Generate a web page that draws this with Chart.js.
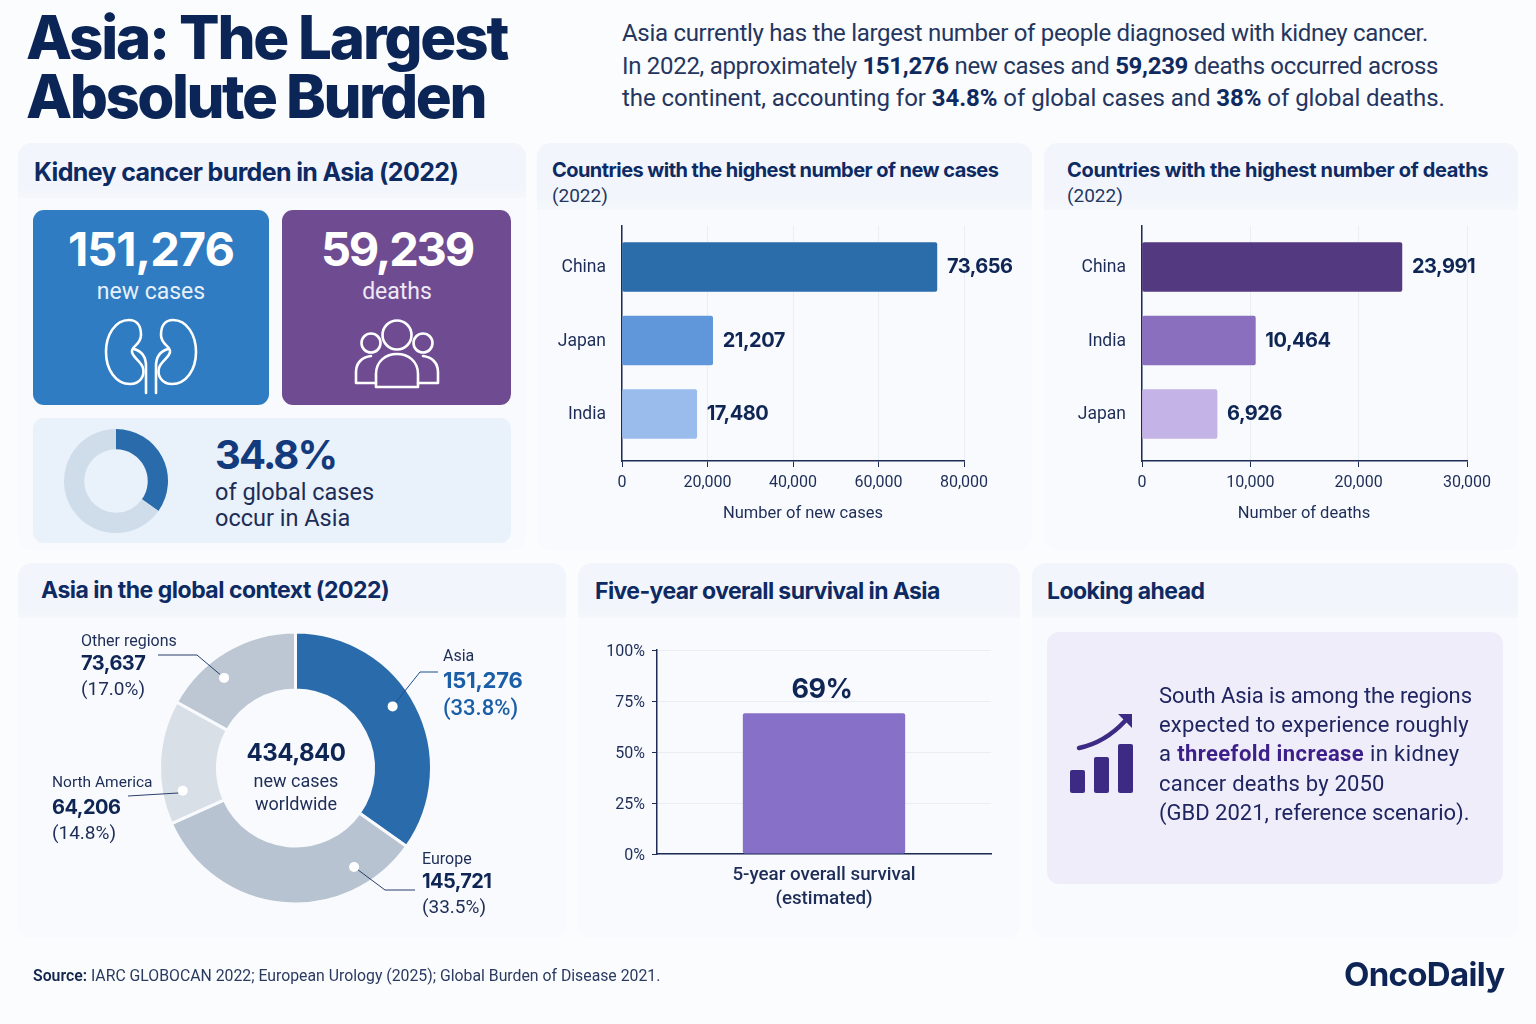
<!DOCTYPE html>
<html>
<head>
<meta charset="utf-8">
<script src="https://cdn.jsdelivr.net/npm/chart.js@4"></script>
<style>
  html, body { margin: 0; padding: 0; }
  body { width: 1536px; height: 1024px; position: relative; overflow: hidden; background: #fbfcfe; font-family: Roboto, sans-serif; color: #1d2d57; }
  .box { position: absolute; }
  .panel { position: absolute; border-radius: 14px; background: #f8fafd; overflow: hidden; }
  .band { position: absolute; left: 0; right: 0; top: 0; background: linear-gradient(#f2f6fc, #f2f6fc 80%, #f4f8fc); }
  .t { position: absolute; white-space: nowrap; transform: translateY(-50%); }
  .c { transform: translate(-50%, -50%); text-align: center; }
  .n { font-family: Inter, sans-serif; font-weight: 700; }
  .h { font-family: Inter, sans-serif; font-weight: 700; color: #0e2a63; letter-spacing: -0.5px; }
  b { font-weight: 700; color: #0f2a5e; }
  canvas { position: absolute; }
  svg { position: absolute; left: 0; top: 0; }
</style>
</head>
<body>

<div class="t n" style="left:26px;top:37px;font-size:60px;font-weight:800;color:#0c2557;letter-spacing:-2.2px">Asia: The Largest</div>
<div class="t n" style="left:26px;top:96px;font-size:60px;font-weight:800;color:#0c2557;letter-spacing:-2.5px">Absolute Burden</div>

<div class="t" style="left:622px;top:33px;font-size:24px;letter-spacing:-0.3px;color:#24365f">Asia currently has the largest number of people diagnosed with kidney cancer.</div>
<div class="t" style="left:622px;top:66px;font-size:24px;letter-spacing:-0.3px;color:#24365f">In 2022, approximately <b>151,276</b> new cases and <b>59,239</b> deaths occurred across</div>
<div class="t" style="left:622px;top:98px;font-size:24px;letter-spacing:-0.06px;color:#24365f">the continent, accounting for <b>34.8%</b> of global cases and <b>38%</b> of global deaths.</div>

<!-- panels -->
<div class="panel" style="left:18px;top:143px;width:508px;height:407px"><div class="band" style="height:55px"></div></div>
<div class="panel" style="left:537px;top:143px;width:495px;height:407px"><div class="band" style="height:67px"></div></div>
<div class="panel" style="left:1044px;top:143px;width:474px;height:407px"><div class="band" style="height:67px"></div></div>
<div class="panel" style="left:18px;top:563px;width:548px;height:375px"><div class="band" style="height:55px"></div></div>
<div class="panel" style="left:578px;top:563px;width:442px;height:375px"><div class="band" style="height:55px"></div></div>
<div class="panel" style="left:1032px;top:563px;width:486px;height:375px"><div class="band" style="height:55px"></div></div>

<!-- burden panel -->
<div class="t h" style="left:34px;top:172px;font-size:25px;letter-spacing:-0.63px">Kidney cancer burden in Asia (2022)</div>
<div class="box" style="left:33px;top:210px;width:236px;height:195px;border-radius:11px;background:#2f7cc2"></div>
<div class="box" style="left:282px;top:210px;width:229px;height:195px;border-radius:11px;background:#6f4c92"></div>
<div class="box" style="left:33px;top:418px;width:478px;height:125px;border-radius:11px;background:#e9f1fa"></div>
<div class="t c n" style="left:151px;top:248px;font-size:47px;color:#fff;letter-spacing:-1px">151,276</div>
<div class="t c" style="left:151px;top:291px;font-size:23px;color:#e6f0fa">new cases</div>
<div class="t c n" style="left:397px;top:248px;font-size:47px;color:#fff;letter-spacing:-2.2px">59,239</div>
<div class="t c" style="left:397px;top:291px;font-size:23px;color:#efe8f5">deaths</div>
<svg width="1536" height="1024" style="pointer-events:none">
  <g fill="none" stroke="#fff" stroke-width="2.6" stroke-linecap="round" stroke-linejoin="round">
    <g id="kidney">
      <path d="M129 320C115 320 106 335 106 352C106 370 116 384 130 384C140 384 145 376 143 368C141 361 133 358 132 352C131 346 141 345 141 335C141 326 137 320 129 320Z"/>
      <path d="M146 393V366C146 356 141 351 134 349"/>
    </g>
    <g transform="translate(302,0) scale(-1,1)">
      <path d="M129 320C115 320 106 335 106 352C106 370 116 384 130 384C140 384 145 376 143 368C141 361 133 358 132 352C131 346 141 345 141 335C141 326 137 320 129 320Z"/>
      <path d="M146 393V366C146 356 141 351 134 349"/>
    </g>
    <circle cx="397" cy="335" r="14.5"/>
    <circle cx="371" cy="343" r="9.5"/>
    <circle cx="423" cy="343" r="9.5"/>
    <path d="M376 387V374C376 361 386 354 397 354C408 354 418 361 418 374V387Z"/>
    <path d="M376 383H356V372C356 363 362 357 371 356"/>
    <path d="M418 383H438V372C438 363 432 357 423 356"/>
  </g>
</svg>
<canvas id="shareChart" width="120" height="120" style="left:56px;top:421px"></canvas>
<div class="t n" style="left:215px;top:454px;font-size:40px;color:#123a7c;letter-spacing:-1.8px">34.8%</div>
<div class="t" style="left:215px;top:492px;font-size:23.5px;color:#1d2d57">of global cases</div>
<div class="t" style="left:215px;top:518px;font-size:23.5px;color:#1d2d57">occur in Asia</div>

<!-- new cases panel -->
<div class="t h" style="left:552px;top:170px;font-size:20px;letter-spacing:-0.55px">Countries with the highest number of new cases</div>
<div class="t" style="left:552px;top:195px;font-size:19px;color:#24365f">(2022)</div>
<canvas id="casesChart" width="495" height="330" style="left:537px;top:215px"></canvas>
<div class="t c" style="left:803px;top:512px;font-size:16.5px;color:#1d2d57">Number of new cases</div>

<!-- deaths panel -->
<div class="t h" style="left:1067px;top:170px;font-size:20px;letter-spacing:-0.33px">Countries with the highest number of deaths</div>
<div class="t" style="left:1067px;top:195px;font-size:19px;color:#24365f">(2022)</div>
<canvas id="deathsChart" width="474" height="330" style="left:1044px;top:215px"></canvas>
<div class="t c" style="left:1304px;top:512px;font-size:16.5px;color:#1d2d57">Number of deaths</div>

<!-- global context panel -->
<div class="t h" style="left:41px;top:590px;font-size:23px;letter-spacing:-0.5px">Asia in the global context (2022)</div>
<canvas id="globalChart" width="555" height="280" style="left:18px;top:628px"></canvas>
<div class="t c n" style="left:296px;top:752px;font-size:24px;color:#0f2655;letter-spacing:-0.5px">434,840</div>
<div class="t c" style="left:296px;top:780px;font-size:18px">new cases</div>
<div class="t c" style="left:296px;top:803px;font-size:18px">worldwide</div>

<div class="t" style="left:81px;top:640px;font-size:16px">Other regions</div>
<div class="t n" style="left:81px;top:663px;font-size:20px;color:#0f2655;letter-spacing:-0.5px">73,637</div>
<div class="t" style="left:81px;top:688px;font-size:19px">(17.0%)</div>
<div class="t" style="left:443px;top:655px;font-size:16px">Asia</div>
<div class="t n" style="left:443px;top:680px;font-size:22px;color:#1b5ea8;letter-spacing:-0.2px">151,276</div>
<div class="t" style="left:443px;top:707px;font-size:22px;font-weight:500;color:#1b5ea8">(33.8%)</div>
<div class="t" style="left:52px;top:782px;font-size:15.5px">North America</div>
<div class="t n" style="left:52px;top:807px;font-size:20px;color:#0f2655;letter-spacing:-0.5px">64,206</div>
<div class="t" style="left:52px;top:832px;font-size:19px">(14.8%)</div>
<div class="t" style="left:422px;top:858px;font-size:16px">Europe</div>
<div class="t n" style="left:422px;top:881px;font-size:20px;color:#0f2655;letter-spacing:-0.6px">145,721</div>
<div class="t" style="left:422px;top:906px;font-size:19px">(33.5%)</div>

<!-- survival panel -->
<div class="t h" style="left:595px;top:591px;font-size:23px;letter-spacing:-0.6px">Five-year overall survival in Asia</div>
<canvas id="survivalChart" width="442" height="315" style="left:578px;top:620px"></canvas>

<!-- looking ahead panel -->
<div class="t h" style="left:1047px;top:591px;font-size:23px;letter-spacing:-0.55px">Looking ahead</div>
<div class="box" style="left:1047px;top:632px;width:456px;height:252px;border-radius:12px;background:#efedf9"></div>
<svg width="1536" height="1024" style="pointer-events:none">
  <g fill="#3d2a85">
    <rect x="1070" y="770" width="15" height="23" rx="2"/>
    <rect x="1094" y="757" width="15" height="36" rx="2"/>
    <rect x="1118" y="744" width="15" height="49" rx="2"/>
    <path d="M1118 714H1132V728Z"/>
  </g>
  <path d="M1079 748C1098 744 1112 735 1125 721" fill="none" stroke="#3d2a85" stroke-width="4.5" stroke-linecap="round"/>
</svg>
<div class="t" style="left:1159px;top:695px;font-size:22px;letter-spacing:-0.1px;color:#1f2560">South Asia is among the regions</div>
<div class="t" style="left:1159px;top:724px;font-size:22px;letter-spacing:0.2px;color:#1f2560">expected to experience roughly</div>
<div class="t" style="left:1159px;top:753px;font-size:22px;letter-spacing:0.4px;color:#1f2560">a <b style="color:#3d1f8a">threefold increase</b> in kidney</div>
<div class="t" style="left:1159px;top:783px;font-size:22px;letter-spacing:0.2px;color:#1f2560">cancer deaths by 2050</div>
<div class="t" style="left:1159px;top:812px;font-size:22px;color:#1f2560">(GBD 2021, reference scenario).</div>

<!-- footer -->
<div class="t" style="left:33px;top:975px;font-size:15.8px;color:#2a3a60"><span style="font-weight:600;color:#14264f">Source:</span> IARC GLOBOCAN 2022; European Urology (2025); Global Burden of Disease 2021.</div>
<div class="t n" style="left:1344px;top:974px;font-size:33px;letter-spacing:-0.7px;color:#0d2454">OncoDaily</div>

<script>
// data
const casesCountries = ['China', 'Japan', 'India'];
const casesValues = [73656, 21207, 17480];
const casesTicks = [0, 20000, 40000, 60000, 80000];

const deathsCountries = ['China', 'India', 'Japan'];
const deathsValues = [23991, 10464, 6926];
const deathsTicks = [0, 10000, 20000, 30000];

const regions = ['Asia', 'Europe', 'North America', 'Other regions'];
const regionCases = [151276, 145721, 64206, 73637];

const shareLabels = ['Asia', 'Rest of world'];
const shareValues = [34.8, 65.2];

const survivalLabel = ['5-year overall survival', '(estimated)'];
const survivalValues = [69];
const survivalTicks = [0, 25, 50, 75, 100];

Chart.defaults.font.family = 'Roboto, sans-serif';
Chart.defaults.color = '#1d2d57';
Chart.defaults.animation = false;
Chart.defaults.responsive = false;
Chart.defaults.plugins.legend.display = false;
Chart.defaults.plugins.tooltip.enabled = false;

const axisColor = '#1d2b56';
const gridColor = '#e9eef5';

// value printed next to each bar
const barValueLabels = {
  id: 'barValueLabels',
  afterDatasetsDraw(chart) {
    const ctx = chart.ctx;
    const meta = chart.getDatasetMeta(0);
    ctx.save();
    ctx.font = '700 20px Inter';
    ctx.letterSpacing = '-0.5px';
    ctx.fillStyle = '#0f2655';
    ctx.textBaseline = 'middle';
    meta.data.forEach((bar, i) => {
      ctx.fillText(chart.data.datasets[0].data[i].x.toLocaleString('en-US'), bar.x + 10, bar.y);
    });
    ctx.restore();
  }
};

function countryChart(id, countries, values, ticks, colors) {
  const maxTick = ticks[ticks.length - 1];
  return new Chart(document.getElementById(id), {
    type: 'bar',
    data: {
      datasets: [{
        data: values.map((v, i) => ({ x: v, y: i })),
        backgroundColor: colors,
        barThickness: 49,
        borderRadius: 2,
        borderSkipped: false
      }]
    },
    options: {
      indexAxis: 'y',
      layout: { autoPadding: false, padding: { top: 11, right: id === 'casesChart' ? 68 : 51, bottom: 0, left: 0 } },
      scales: {
        x: {
          min: 0,
          max: maxTick,
          afterBuildTicks: s => { s.ticks = ticks.map(v => ({ value: v })); },
          afterFit: s => { s.height = 84; },
          grid: { color: gridColor, tickColor: axisColor, tickLength: 6 },
          border: { color: axisColor, width: 1.5 },
          ticks: { font: { size: 16 }, padding: 6, maxRotation: 0, callback: v => v.toLocaleString('en-US') }
        },
        y: {
          type: 'linear',
          offset: false,
          reverse: true,
          min: -0.558,
          max: 2.64,
          afterFit: s => {
            s.width = id === 'casesChart' ? 85 : 98;
            s.paddingTop = 0;
            s.paddingBottom = 0;
          },
          grid: { display: false },
          border: { color: axisColor, width: 1.5 },
          ticks: { stepSize: 1, includeBounds: false, font: { size: 17.5 }, padding: 8, labelOffset: 1, callback: v => countries[v] }
        }
      }
    },
    plugins: [barValueLabels]
  });
}

countryChart('casesChart', casesCountries, casesValues, casesTicks, ['#2b6cab', '#6097db', '#9abcec']);
countryChart('deathsChart', deathsCountries, deathsValues, deathsTicks, ['#53397f', '#8a6fbf', '#c4b3e6']);

// small share ring
new Chart(document.getElementById('shareChart'), {
  type: 'doughnut',
  data: {
    labels: shareLabels,
    datasets: [{ data: shareValues, backgroundColor: ['#2a6cab', '#cfdcea'], borderWidth: 0 }]
  },
  options: { radius: 52, cutout: '61%' }
});

// white dots inside the slices, with a leader line out to each text block
const dotFractions = [0.46, 0.2, 0.24, 0.37];
const leaderPaths = [
  [[402, 44], [420, 44]],
  [[367, 262], [397, 262]],
  [[160, 165], [110, 168]],
  [[179, 27], [140, 27]]
];
const regionLeaders = {
  id: 'regionLeaders',
  afterDatasetsDraw(chart) {
    const ctx = chart.ctx;
    chart.getDatasetMeta(0).data.forEach((arc, i) => {
      const p = arc.getProps(['x', 'y', 'startAngle', 'endAngle']);
      const a = p.startAngle + dotFractions[i] * (p.endAngle - p.startAngle);
      const dx = p.x + 115 * Math.cos(a);
      const dy = p.y + 115 * Math.sin(a);
      ctx.save();
      ctx.strokeStyle = i === 0 ? '#1b4f8e' : '#2b3f6b';
      ctx.lineWidth = 1;
      ctx.beginPath();
      ctx.moveTo(dx, dy);
      leaderPaths[i].forEach(pt => ctx.lineTo(pt[0], pt[1]));
      ctx.stroke();
      ctx.fillStyle = '#fff';
      ctx.beginPath();
      ctx.arc(dx, dy, 5, 0, Math.PI * 2);
      ctx.fill();
      ctx.restore();
    });
  }
};

new Chart(document.getElementById('globalChart'), {
  type: 'doughnut',
  data: {
    labels: regions,
    datasets: [{
      data: regionCases,
      backgroundColor: ['#2a6cab', '#b7c3d0', '#d8dfe7', '#bcc7d3'],
      borderColor: '#f8fafd',
      borderWidth: 3
    }]
  },
  options: { radius: 136, cutout: '57.4%' },
  plugins: [regionLeaders]
});

// survival bar with its value above
const survivalLabelPlugin = {
  id: 'survivalLabel',
  afterDatasetsDraw(chart) {
    const ctx = chart.ctx;
    const bar = chart.getDatasetMeta(0).data[0];
    ctx.save();
    ctx.font = '700 27px Inter';
    ctx.letterSpacing = '-0.5px';
    ctx.fillStyle = '#0f2655';
    ctx.textAlign = 'center';
    ctx.textBaseline = 'bottom';
    ctx.fillText(survivalValues[0] + '%', bar.x - 2, bar.y - 10);
    ctx.restore();
  }
};

new Chart(document.getElementById('survivalChart'), {
  type: 'bar',
  data: {
    labels: [survivalLabel],
    datasets: [{
      data: survivalValues,
      backgroundColor: '#8670c8',
      barPercentage: 0.486,
      categoryPercentage: 1,
      borderRadius: 2,
      borderSkipped: false
    }]
  },
  options: {
    layout: { autoPadding: false, padding: { top: 30, right: 29, bottom: 0, left: 0 } },
    scales: {
      x: {
        afterFit: s => { s.height = 81; },
        grid: { display: false },
        border: { color: axisColor, width: 1.5 },
        ticks: { font: { size: 18.8, weight: 500, lineHeight: 1.28 }, padding: 1, maxRotation: 0, autoSkip: false }
      },
      y: {
        min: 0,
        max: 100,
        afterBuildTicks: s => { s.ticks = survivalTicks.map(v => ({ value: v })); },
        afterFit: s => { s.width = 79; },
        grid: { color: gridColor, tickColor: axisColor, tickLength: 5 },
        border: { color: axisColor, width: 1.5 },
        ticks: { font: { size: 16 }, padding: 7, labelOffset: 2, callback: v => v + '%' }
      }
    }
  },
  plugins: [survivalLabelPlugin]
});
</script>
</body>
</html>
